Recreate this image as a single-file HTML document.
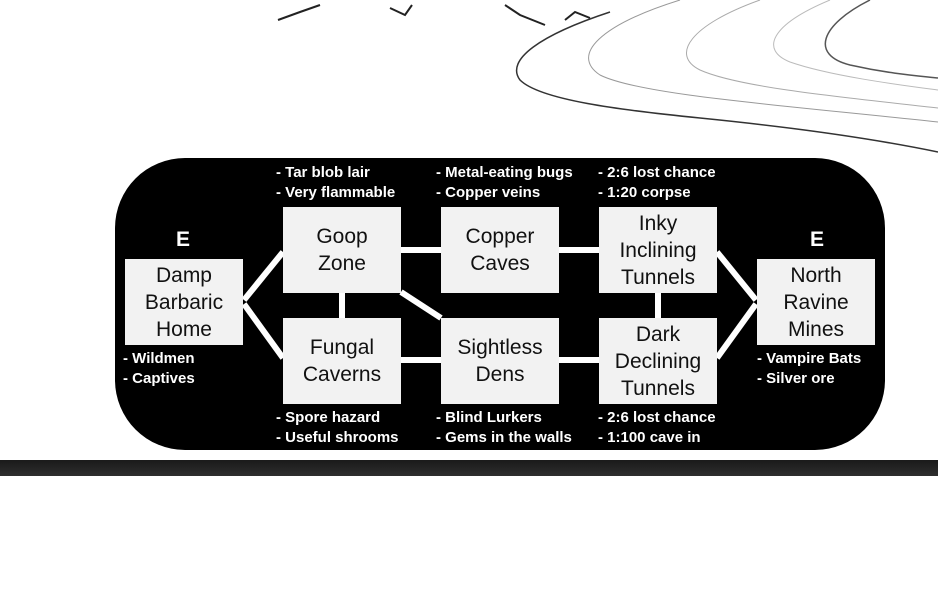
<!DOCTYPE html>
<html><head><style>
body{margin:0;width:938px;height:594px;background:#fff;position:relative;overflow:hidden;font-family:"Liberation Sans",sans-serif}
.bg{position:absolute;left:115px;top:158px;width:770px;height:292px;background:#000;border-radius:70px}
.bar{position:absolute;left:0;top:460px;width:938px;height:16px;background:linear-gradient(#1a1a1a,#2e2e2e)}
.box{position:absolute;width:118px;height:86px;background:#f2f2f2;display:flex;align-items:center;justify-content:center;text-align:center;font-size:21px;line-height:27px;color:#111}
.n{position:absolute;color:#fff;font-weight:bold;font-size:15px;line-height:20px;white-space:nowrap}
.e{position:absolute;color:#fff;font-weight:bold;font-size:21px}
</style></head><body>
<svg style="position:absolute;left:0;top:0" width="938" height="160" fill="none" stroke="#333">
<path d="M278 20 L300 12 L320 5 M390 8 L405 15 L412 5 M505 5 L520 15 L545 25 M565 20 L575 12 L590 18" stroke="#222" stroke-width="2"/>
<path d="M610 12 C540 35 505 60 520 80 C540 100 620 110 700 118 C800 128 880 140 938 152" stroke-width="1.5"/>
<path d="M680 0 C600 25 570 55 600 75 C640 95 780 105 938 122" stroke="#999"/>
<path d="M760 0 C690 25 670 55 700 70 C740 88 850 98 938 108" stroke="#aaa"/>
<path d="M830 0 C770 25 760 50 790 62 C830 76 900 85 938 90" stroke="#bbb"/>
<path d="M1040 0 C950 10 930 40 960 55" stroke="#555"/>
<path d="M870 0 C820 25 810 55 850 65 C890 74 920 76 938 78" stroke="#555" stroke-width="1.5"/>
</svg>
<div class="bg"></div>
<div class="bar"></div>
<svg style="position:absolute;left:0;top:0" width="938" height="594" stroke="#fff" stroke-width="6">
<line x1="244" y1="300" x2="283" y2="252"/><line x1="244" y1="304" x2="283" y2="358"/>
<line x1="401" y1="250" x2="441" y2="250"/><line x1="401" y1="360" x2="441" y2="360"/>
<line x1="342" y1="292" x2="342" y2="318"/><line x1="401" y1="292" x2="441" y2="318"/>
<line x1="559" y1="250" x2="599" y2="250"/><line x1="559" y1="360" x2="599" y2="360"/>
<line x1="658" y1="292" x2="658" y2="318"/>
<line x1="717" y1="252" x2="756" y2="300"/><line x1="717" y1="358" x2="756" y2="304"/>
</svg>
<div class="box" style="left:125px;top:259px">Damp<br>Barbaric<br>Home</div>
<div class="box" style="left:283px;top:207px">Goop<br>Zone</div>
<div class="box" style="left:283px;top:318px">Fungal<br>Caverns</div>
<div class="box" style="left:441px;top:207px">Copper<br>Caves</div>
<div class="box" style="left:441px;top:318px">Sightless<br>Dens</div>
<div class="box" style="left:599px;top:207px">Inky<br>Inclining<br>Tunnels</div>
<div class="box" style="left:599px;top:318px">Dark<br>Declining<br>Tunnels</div>
<div class="box" style="left:757px;top:259px">North<br>Ravine<br>Mines</div>
<div class="e" style="left:176px;top:228px">E</div>
<div class="e" style="left:810px;top:228px">E</div>
<div class="n" style="left:276px;top:163px">- Tar blob lair<br>- Very flammable</div>
<div class="n" style="left:436px;top:163px">- Metal-eating bugs<br>- Copper veins</div>
<div class="n" style="left:598px;top:163px">- 2:6 lost chance<br>- 1:20 corpse</div>
<div class="n" style="left:123px;top:349px">- Wildmen<br>- Captives</div>
<div class="n" style="left:757px;top:349px">- Vampire Bats<br>- Silver ore</div>
<div class="n" style="left:276px;top:408px">- Spore hazard<br>- Useful shrooms</div>
<div class="n" style="left:436px;top:408px">- Blind Lurkers<br>- Gems in the walls</div>
<div class="n" style="left:598px;top:408px">- 2:6 lost chance<br>- 1:100 cave in</div>
</body></html>
